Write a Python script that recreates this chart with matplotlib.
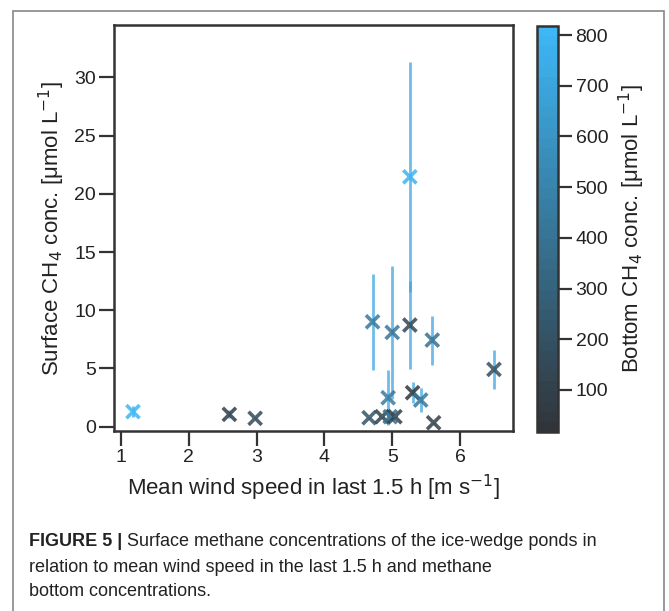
import numpy as np
import matplotlib.pyplot as plt
from matplotlib.colors import LinearSegmentedColormap
from matplotlib.patches import Rectangle

plt.rcParams['font.family'] = ['Liberation Sans', 'DejaVu Sans']

# wind speed [m/s], surface CH4 [umol/L], error, bottom CH4 [umol/L]
wind = [1.18, 2.60, 2.98, 4.71, 5.00, 5.26, 5.26, 5.59, 6.50, 4.94, 5.30, 5.42, 5.61, 4.66, 4.85, 4.97, 5.04]
surf = [1.29, 1.06, 0.72, 9.01, 8.10, 21.46, 8.73, 7.44, 4.92, 2.49, 2.92, 2.29, 0.34, 0.77, 0.86, 0.86, 0.86]
surf_err = [0.45, 0.35, 0.1, 4.1, 5.7, 9.85, 3.75, 2.1, 1.7, 2.36, 0.9, 1.05, 0.1, 0.1, 0.1, 0.3, 0.1]
bottom = [818, 60, 150, 420, 400, 780, 120, 380, 170, 450, 30, 420, 90, 200, 100, 380, 110]

cmap = LinearSegmentedColormap.from_list('bl', ['#31353a', '#3db7f6'], N=40)

fig = plt.figure(figsize=(6.69, 6.11), dpi=100)
ax = fig.add_axes([114/669, 1-431/611, (513-114)/669, (431-25)/611])
cax = fig.add_axes([537/669, 1-432/611, 20.5/669, (432-26)/611])

ax.errorbar(wind, surf, yerr=surf_err, fmt='none', ecolor='#3fa6e3', alpha=0.75, elinewidth=2)
sc = ax.scatter(wind, surf, c=bottom, cmap=cmap, vmin=17, vmax=818, marker='x',
                s=90, linewidths=2.6, alpha=0.85, zorder=3)

ax.set_xlim(0.9, 6.78)
ax.set_ylim(-0.37, 34.5)
ax.set_xticks([1, 2, 3, 4, 5, 6])
ax.set_yticks([0, 5, 10, 15, 20, 25, 30])
ax.set_xlabel('Mean wind speed in last 1.5 h [m s$^{-1}$]', fontsize=16, color='#222222', labelpad=5)
ax.set_ylabel('Surface CH$_4$ conc. [μmol L$^{-1}$]', fontsize=16, color='#222222', labelpad=5)
ax.tick_params(labelsize=14, length=10.5, width=1.6, pad=2.5, color='#333333', labelcolor='#222222')
for s in ax.spines.values():
    s.set_linewidth(1.8)
    s.set_color('#333333')

cb = fig.colorbar(sc, cax=cax)
cb.solids.set_alpha(1)
cb.set_ticks([100, 200, 300, 400, 500, 600, 700, 800])
cb.ax.tick_params(labelsize=14, length=10, width=1.6, pad=3, color='#333333', labelcolor='#222222')
cb.outline.set_linewidth(1.8)
cb.outline.set_edgecolor('#333333')
cb.set_label('Bottom CH$_4$ conc. [μmol L$^{-1}$]', fontsize=16, color='#222222', labelpad=6)

# frame around figure and caption
fig.patches.append(Rectangle((13/669, -0.05), (664-13)/669, 1-11/611+0.05, transform=fig.transFigure,
                             fill=False, edgecolor='#888888', linewidth=1.2))

cap_font = ['Liberation Sans Narrow', 'Liberation Sans', 'DejaVu Sans']
fig.text(29/669, 1-542/611, 'FIGURE 5 |', fontsize=13, fontweight='bold', family=cap_font,
         va='center', color='#222222')
fig.text(127/669, 1-542/611, 'Surface methane concentrations of the ice-wedge ponds in',
         fontsize=13, family=cap_font, va='center', color='#222222')
fig.text(29/669, 1-567/611, 'relation to mean wind speed in the last 1.5 h and methane',
         fontsize=13, family=cap_font, va='center', color='#222222')
fig.text(29/669, 1-591/611, 'bottom concentrations.',
         fontsize=13, family=cap_font, va='center', color='#222222')

plt.savefig('out.png', dpi=100)
